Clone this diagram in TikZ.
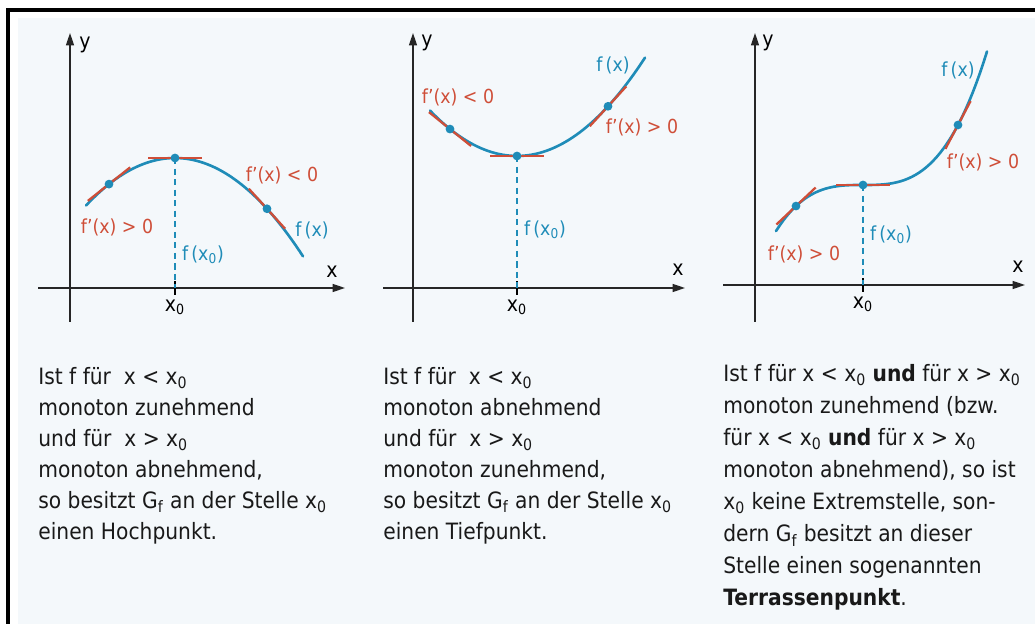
\documentclass[tikz,border=0pt]{standalone}
\usepackage{fontspec}
\setmainfont{DejaVu Sans}[FakeStretch=0.9]
\usetikzlibrary{arrows.meta,positioning,calc}
\definecolor{fBlue}{HTML}{1F8CB8}
\definecolor{fRed}{HTML}{CF4E38}
\definecolor{paper}{HTML}{F4F8FB}
\newcommand{\xnull}{x\textsubscript{0}}
\newcommand{\Gf}{G\textsubscript{f}}

\begin{document}
\begin{tikzpicture}[x=0.02cm,y=0.02cm,
  axis/.style={line width=0.85pt,draw=black!85,-{Triangle[length=7pt,width=4.5pt]}},
  graph/.style={fBlue,line width=1.5pt,line cap=round},
  tangent/.style={fRed,line width=1.3pt},
  drop/.style={fBlue,line width=1.1pt,dash pattern=on 3.5pt off 2.5pt},
  dot/.style={circle,fill=fBlue,inner sep=0pt,minimum size=5pt},
  slope/.style={fRed,inner sep=1pt,font=\fontsize{11}{13}\selectfont},
  fval/.style={fBlue,inner sep=1pt,font=\fontsize{11}{13}\selectfont},
  lbl/.style={inner sep=1pt,font=\fontsize{12}{14}\selectfont},
  body/.style={anchor=north west,align=left,inner sep=0pt,text=black!90,
    font=\fontsize{12.8}{17.6}\selectfont}]
  % tangent piece through a point, given its angle
  \def\tang#1#2{\draw[tangent] (#1) ++(#2:-27) -- ++(#2:54);}

  % page, frame
  \useasboundingbox (0,0) rectangle (1035,624);
  \fill[white] (0,0) rectangle (1035,624);
  \fill[paper] (18,0) rectangle (1035,606);
  \draw[line width=2.3pt] (8,0) -- (8,614) -- (1035,614);

  % Hochpunkt
  \begin{scope}[shift={(70,336)}]
    \draw[axis] (-32,0) -- (275,0);
    \draw[axis] (0,-34) -- (0,255);
    \node[lbl] (y1) at (15,243) {y};
    \node[lbl] (x1) at (262,16) {x};
    \draw[line width=1pt] (105,-7) -- (105,7);
    \node[lbl] (xn1) at (105,-19) {\xnull};
    \coordinate (top1) at (105,130);
    \coordinate (foot1) at (105,0);
    \coordinate (l1) at (39,{130-0.6*(6.6)^2});
    \coordinate (r1) at (197,{130-0.6*(9.2)^2});
    \draw[drop] (top1) -- (foot1);
    \draw[graph,domain=16:233,samples=60] plot (\x,{130-0.6*((\x-105)/10)^2});
    \tang{top1}{0} \tang{l1}{38.4} \tang{r1}{-47.8}
    \node[dot] (p1) at (top1) {};
    \node[dot] (pl1) at (l1) {};
    \node[dot] (pr1) at (r1) {};
    \node[slope] (s1a) at (47,61) {f'(x) > 0};
    \node[slope] (s1b) at (212,113) {f'(x) < 0};
    \node[fval] (f1) at (242,58) {f\,(x)};
    \node[fval,anchor=west] (fx1) at (110,33) {f\,(\xnull)};
  \end{scope}

  % Tiefpunkt
  \begin{scope}[shift={(413,336)}]
    \draw[axis] (-30,0) -- (272,0);
    \draw[axis] (0,-34) -- (0,255);
    \node[lbl] (y2) at (14,245) {y};
    \node[lbl] (x2) at (265,18) {x};
    \draw[line width=1pt] (104,-7) -- (104,7);
    \node[lbl] (xn2) at (104,-19) {\xnull};
    \coordinate (bot2) at (104,132);
    \coordinate (foot2) at (104,0);
    \coordinate (l2) at (37,{132+0.6*(6.7)^2});
    \coordinate (r2) at (195,{132+0.6*(9.1)^2});
    \draw[drop] (bot2) -- (foot2);
    \draw[graph,domain=17:232,samples=60] plot (\x,{132+0.6*((\x-104)/10)^2});
    \tang{bot2}{0} \tang{l2}{-38.8} \tang{r2}{47.5}
    \node[dot] (p2) at (bot2) {};
    \node[dot] (pl2) at (l2) {};
    \node[dot] (pr2) at (r2) {};
    \node[slope] (s2a) at (45,191) {f'(x) < 0};
    \node[slope] (s2b) at (229,161) {f'(x) > 0};
    \node[fval] (f2) at (200,223) {f\,(x)};
    \node[fval,anchor=west] (fx2) at (109,58) {f\,(\xnull)};
  \end{scope}

  % Terrassenpunkt
  \begin{scope}[shift={(755,339)}]
    \draw[axis] (-32,0) -- (270,0);
    \draw[axis] (0,-37) -- (0,252);
    \node[lbl] (y3) at (13,242) {y};
    \node[lbl] (x3) at (263,18) {x};
    \draw[line width=1pt] (108,-7) -- (108,7);
    \node[lbl] (xn3) at (108,-19) {\xnull};
    \coordinate (ter3) at (108,100);
    \coordinate (foot3) at (108,0);
    \coordinate (l3) at (41,{100-0.07*(6.7)^3});
    \coordinate (r3) at (203,{100+0.07*(9.5)^3});
    \draw[drop] (ter3) -- (foot3);
    \draw[graph,domain=21:232,samples=60] plot (\x,{100+0.07*((\x-108)/10)^3});
    \tang{ter3}{0} \tang{l3}{43.3} \tang{r3}{62.2}
    \node[dot] (p3) at (ter3) {};
    \node[dot] (pl3) at (l3) {};
    \node[dot] (pr3) at (r3) {};
    \node[slope] (s3a) at (49,31) {f'(x) > 0};
    \node[slope] (s3b) at (228,123) {f'(x) > 0};
    \node[fval] (f3) at (203,215) {f\,(x)};
    \node[fval,anchor=west] (fx3) at (113,50) {f\,(\xnull)};
  \end{scope}

  % texts below the graphs
  \node[body] (hoch) at (38,257) {Ist f für\ \ x < \xnull\\
    monoton zunehmend\\ und für\ \ x > \xnull\\ monoton abnehmend,\\
    so besitzt \Gf{} an der Stelle \xnull\\ einen Hochpunkt.};
  \node[body] (tief) at (383,257) {Ist f für\ \ x < \xnull\\
    monoton abnehmend\\ und für\ \ x > \xnull\\ monoton zunehmend,\\
    so besitzt \Gf{} an der Stelle \xnull\\ einen Tiefpunkt.};
  \node[body,font=\fontsize{12.8}{18.2}\selectfont] (terr) at (723,260)
    {Ist f für x < \xnull{} \textbf{und} für x > \xnull\\
    monoton zunehmend (bzw.\\ für x < \xnull{} \textbf{und} für x > \xnull\\
    monoton abnehmend), so ist\\ \xnull{} keine Extremstelle, son-\\
    dern \Gf{} besitzt an dieser\\ Stelle einen sogenannten\\ \textbf{Terrassenpunkt}.};
\end{tikzpicture}
\end{document}
